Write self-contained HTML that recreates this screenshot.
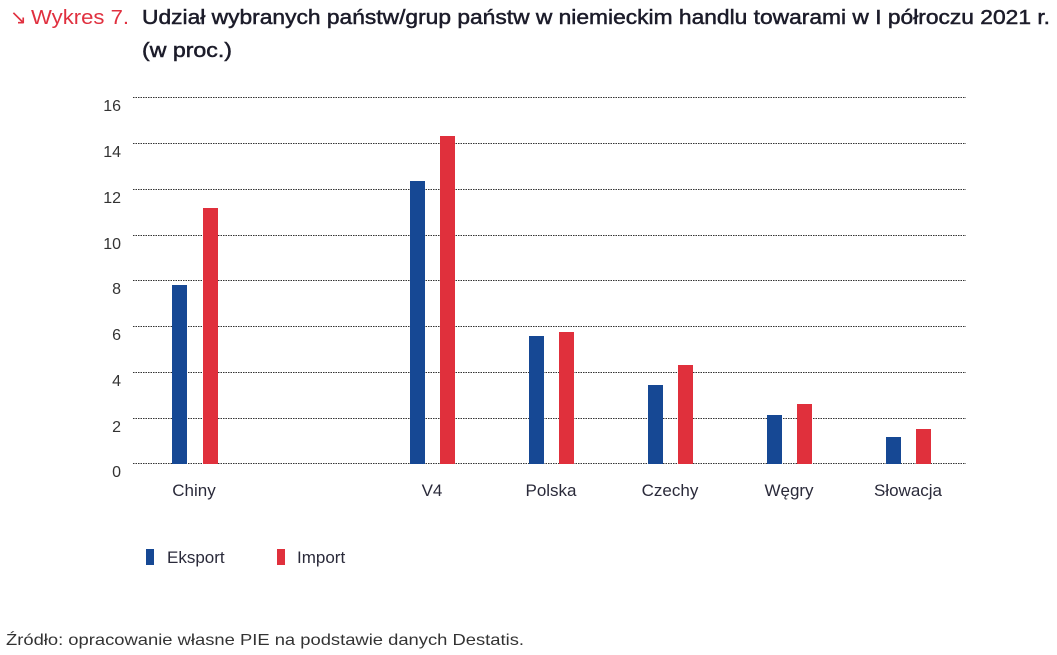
<!DOCTYPE html>
<html><head><meta charset="utf-8"><style>
html,body{margin:0;padding:0;background:#fff;}
svg{display:block;font-family:"Liberation Sans",sans-serif;}
</style></head><body>
<svg width="1057" height="655" viewBox="0 0 1057 655" xmlns="http://www.w3.org/2000/svg">
<text x="10" y="24" font-size="20" fill="#e0303f">↘</text>
<text x="31" y="24" font-size="20" fill="#e0303f" textLength="98" lengthAdjust="spacingAndGlyphs">Wykres 7.</text>
<text x="142" y="24" font-size="20.5" fill="#1c1c2a" stroke="#1c1c2a" stroke-width="0.5" textLength="908" lengthAdjust="spacingAndGlyphs">Udział wybranych państw/grup państw w niemieckim handlu towarami w I półroczu 2021 r.</text>
<text x="142" y="57" font-size="20.5" fill="#1c1c2a" stroke="#1c1c2a" stroke-width="0.5" textLength="90" lengthAdjust="spacingAndGlyphs">(w proc.)</text>
<g stroke="#333" stroke-width="1" stroke-dasharray="1.5,1">
<line x1="133" x2="966" y1="97.5" y2="97.5"/>
<line x1="133" x2="966" y1="143.5" y2="143.5"/>
<line x1="133" x2="966" y1="189.5" y2="189.5"/>
<line x1="133" x2="966" y1="235.5" y2="235.5"/>
<line x1="133" x2="966" y1="280.5" y2="280.5"/>
<line x1="133" x2="966" y1="326.5" y2="326.5"/>
<line x1="133" x2="966" y1="372.5" y2="372.5"/>
<line x1="133" x2="966" y1="418.5" y2="418.5"/>
<line x1="133" x2="966" y1="463.5" y2="463.5"/>
</g>
<g font-size="16" fill="#333" text-anchor="end">
<text x="121" y="111">16</text>
<text x="121" y="157">14</text>
<text x="121" y="203">12</text>
<text x="121" y="249">10</text>
<text x="121" y="294">8</text>
<text x="121" y="340">6</text>
<text x="121" y="386">4</text>
<text x="121" y="432">2</text>
<text x="121" y="477">0</text>
</g>
<g fill="#164894">
<rect x="172" y="285" width="15" height="179"/>
<rect x="410" y="181" width="15" height="283"/>
<rect x="529" y="336" width="15" height="128"/>
<rect x="648" y="385" width="15" height="79"/>
<rect x="767" y="415" width="15" height="49"/>
<rect x="886" y="437" width="15" height="27"/>
</g>
<g fill="#e0303c">
<rect x="203" y="208" width="15" height="256"/>
<rect x="440" y="136" width="15" height="328"/>
<rect x="559" y="332" width="15" height="132"/>
<rect x="678" y="365" width="15" height="99"/>
<rect x="797" y="404" width="15" height="60"/>
<rect x="916" y="429" width="15" height="35"/>
</g>
<g font-size="17" fill="#2a2a3a" text-anchor="middle">
<text x="194" y="496">Chiny</text>
<text x="432" y="496">V4</text>
<text x="551" y="496">Polska</text>
<text x="670" y="496">Czechy</text>
<text x="789" y="496">Węgry</text>
<text x="908" y="496">Słowacja</text>
</g>
<rect x="146" y="549" width="8" height="16" fill="#164894"/>
<text x="167" y="563" font-size="17" fill="#2a2a3a">Eksport</text>
<rect x="277" y="549" width="8" height="16" fill="#e0303c"/>
<text x="297" y="563" font-size="17" fill="#2a2a3a">Import</text>
<text x="6" y="645" font-size="16" fill="#333" textLength="518" lengthAdjust="spacingAndGlyphs">Źródło: opracowanie własne PIE na podstawie danych Destatis.</text>
</svg>
</body></html>
